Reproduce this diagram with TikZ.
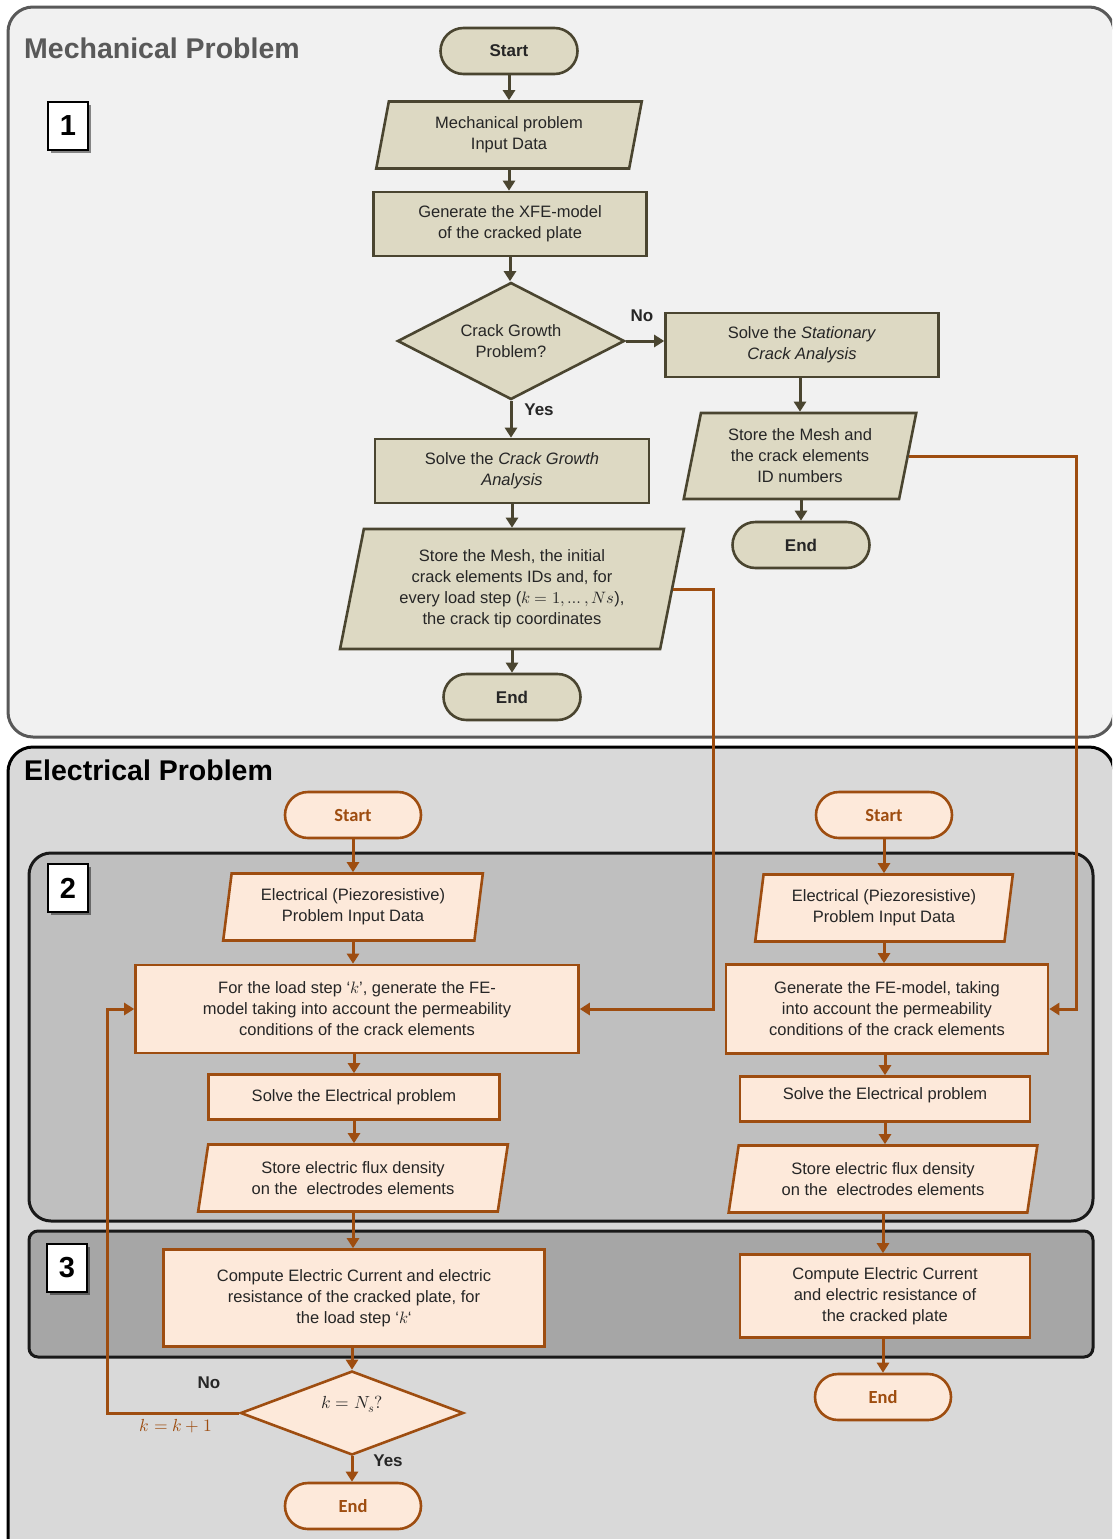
\documentclass[tikz,border=0pt]{standalone}
\usepackage{fontspec}
\usepackage{unicode-math}
\setmainfont{Liberation Sans}
\setmathfont{Latin Modern Math}
\newfontfamily\calib{Carlito}
\usetikzlibrary{shapes.geometric,shapes.misc,arrows.meta,shadows}
\definecolor{mechfill}{HTML}{DDD9C3}
\definecolor{mechdraw}{HTML}{4A4530}
\definecolor{elfill}{HTML}{FDE9DA}
\definecolor{eldraw}{HTML}{9E4D10}
\definecolor{txt}{HTML}{262626}
\definecolor{graytitle}{HTML}{595959}
\definecolor{mechpanel}{HTML}{F1F1F1}
\definecolor{elpanel}{HTML}{D9D9D9}
\definecolor{ptwo}{HTML}{BFBFBF}
\definecolor{pthree}{HTML}{A6A6A6}
\tikzset{
  base/.style={font=\fontsize{16.5}{21}\selectfont, text=txt, align=center, line width=2.6pt, inner sep=0pt},
  mbox/.style={base, draw=mechdraw, fill=mechfill, rectangle},
  ebox/.style={base, draw=eldraw, fill=elfill, rectangle},
  mpara/.style={base, draw=mechdraw, fill=mechfill, trapezium, trapezium stretches=true},
  epara/.style={base, draw=eldraw, fill=elfill, trapezium, trapezium stretches=true},
  mdia/.style={base, draw=mechdraw, fill=mechfill, diamond},
  edia/.style={base, draw=eldraw, fill=elfill, diamond},
  mterm/.style={base, draw=mechdraw, fill=mechfill, rectangle, rounded corners=23pt, minimum width=137pt, minimum height=46pt, font=\bfseries\fontsize{17}{20}\selectfont},
  eterm/.style={base, draw=eldraw, fill=elfill, rectangle, rounded corners=23pt, minimum width=136pt, minimum height=46pt, text=eldraw, font=\calib\bfseries\fontsize{18.5}{20}\selectfont},
  marr/.style={draw=mechdraw, line width=3pt, -{Triangle[length=10pt,width=12pt]}},
  earr/.style={draw=eldraw, line width=3pt, -{Triangle[length=10pt,width=12pt]}},
  numbox/.style={draw=black, fill=white, line width=2.6pt, minimum width=40pt, minimum height=48pt, inner sep=0pt, font=\bfseries\fontsize{29}{30}\selectfont, drop shadow={shadow xshift=3pt, shadow yshift=-3pt, opacity=0.45, fill=black}},
  lab/.style={font=\bfseries\fontsize{17}{20}\selectfont, text=txt, inner sep=0pt},
  title/.style={anchor=west, inner sep=0pt, font=\bfseries\fontsize{28.5}{32}\selectfont},
}
\begin{document}
\begin{tikzpicture}[x=1pt,y=-1pt]
\useasboundingbox (0,0) rectangle (1112,1539);
\clip (0,0) rectangle (1112,1539);
\fill[white] (0,0) rectangle (1112,1539);

% panels
\draw[line width=3pt, draw=graytitle, fill=mechpanel, rounded corners=25pt] (8,7) rectangle (1114,737);
\draw[line width=3pt, draw=black, fill=elpanel, rounded corners=25pt] (8,747) rectangle (1114,1580);
\draw[line width=3pt, draw=black!90, fill=ptwo, rounded corners=22pt] (29,853) rectangle (1093,1221);
\draw[line width=3pt, draw=black!90, fill=pthree, rounded corners=9pt] (29,1231) rectangle (1093,1357);

% titles and number boxes
\node[title, text=graytitle] (t1) at (24,48) {Mechanical Problem};
\node[title, text=black] (t2) at (24,770) {Electrical Problem};
\node[numbox] (n1) at (68,126) {1};
\node[numbox] (n2) at (68,888) {2};
\node[numbox] (n3) at (67,1268) {3};

% mechanical nodes
\node[mterm] (mstart) at (509,51) {Start};
\node[mpara, trapezium left angle=78, trapezium right angle=102, minimum width=266pt, minimum height=67pt] (minput) at (509,135) {Mechanical problem\\Input Data};
\node[mbox, minimum width=273pt, minimum height=64pt] (mgen) at (510,224) {Generate the XFE-model\\of the cracked plate};
\node[mdia, minimum width=227pt, minimum height=117pt, aspect=1.94] (mdec) at (511,341) {Crack Growth\\Problem?};
\node[mbox, minimum width=273pt, minimum height=64pt] (mstat) at (802,345) {Solve the \textit{Stationary}\\\textit{Crack Analysis}};
\node[mpara, trapezium left angle=77, trapezium right angle=103, minimum width=233pt, minimum height=86pt] (mstoreR) at (800,456) {Store the Mesh and\\the crack elements\\ID numbers};
\node[mterm] (mendR) at (801,545) {End};
\node[mbox, minimum width=274pt, minimum height=64pt] (mcg) at (512,471) {Solve the \textit{Crack Growth}\\\textit{Analysis}};
\node[mpara, trapezium left angle=77, trapezium right angle=103, minimum width=345pt, minimum height=120pt] (mstoreL) at (512,589) {Store the Mesh, the initial\\crack elements IDs and, for\\every load step ($k=1,\dots,Ns$),\\the crack tip coordinates};
\node[mterm] (mendL) at (512,697) {End};

\node[lab] (lno1) at (642,316) {No};
\node[lab] (lyes1) at (539,410) {Yes};

\draw[marr] (mstart.south) -- (mstart.south |- minput.north);
\draw[marr] (minput.south) -- (minput.south |- mgen.north);
\draw[marr] (mgen.south) -- (mgen.south |- mdec.north);
\draw[marr] (mdec.east) -- (mdec.east -| mstat.west);
\draw[marr] (mdec.south) -- (mdec.south |- mcg.north);
\draw[marr] (mstoreR.north |- mstat.south) -- (mstoreR.north);
\draw[marr] (mendR.north |- mstoreR.south) -- (mendR.north);
\draw[marr] (mcg.south) -- (mcg.south |- mstoreL.north);
\draw[marr] (mstoreL.south) -- (mstoreL.south |- mendL.north);

% electrical left column
\node[eterm] (estartL) at (353,815) {Start};
\node[epara, trapezium left angle=80, trapezium right angle=100, minimum width=260pt, minimum height=67pt] (einL) at (353,907) {Electrical (Piezoresistive)\\Problem Input Data};
\node[ebox, minimum width=443pt, minimum height=88pt] (egenL) at (357,1009) {For the load step ‘$k$’, generate the FE-\\model taking into account the permeability\\conditions of the crack elements};
\node[ebox, minimum width=291pt, minimum height=45pt] (esolL) at (354,1097) {Solve the Electrical problem};
\node[epara, trapezium left angle=78, trapezium right angle=102, minimum width=310pt, minimum height=67pt] (estoL) at (353,1178) {Store electric flux density\\on the\ \ electrodes elements};
\node[ebox, minimum width=381pt, minimum height=97pt] (ecompL) at (354,1298) {Compute Electric Current and electric\\resistance of the cracked plate, for\\the load step ‘$k$‘};
\node[edia, minimum width=223pt, minimum height=84pt, aspect=2.65, font=\fontsize{17.5}{22}\selectfont] (edec) at (352,1413) {\raisebox{5pt}[0pt][0pt]{$k = N_s?$}};
\node[eterm] (eendL) at (353,1506) {End};

\node[lab] (lno2) at (209,1383) {No};
\node[lab] (lyes2) at (388,1461) {Yes};
\node[inner sep=0pt, text=eldraw, font=\fontsize{17.5}{22}\selectfont] (lk) at (176,1426) {$k=k+1$};

\draw[earr] (estartL.south) -- (estartL.south |- einL.north);
\draw[earr] (einL.south) -- (einL.south |- egenL.north);
\draw[earr] (esolL.north |- egenL.south) -- (esolL.north);
\draw[earr] (esolL.south) -- (esolL.south |- estoL.north);
\draw[earr] (estoL.south) -- (estoL.south |- ecompL.north);
\draw[earr] (edec.north |- ecompL.south) -- (edec.north);
\draw[earr] (edec.south) -- (edec.south |- eendL.north);

% electrical right column
\node[eterm] (estartR) at (884,815) {Start};
\node[epara, trapezium left angle=80, trapezium right angle=100, minimum width=258pt, minimum height=67pt] (einR) at (884,908) {Electrical (Piezoresistive)\\Problem Input Data};
\node[ebox, minimum width=322pt, minimum height=89pt] (egenR) at (887,1009) {Generate the FE-model, taking\\into account the permeability\\conditions of the crack elements};
\node[ebox, minimum width=290pt, minimum height=45pt] (esolR) at (885,1099) {\raisebox{0pt}[0pt][0pt]{Solve the Electrical problem}};
\node[epara, trapezium left angle=78, trapezium right angle=102, minimum width=309pt, minimum height=67pt] (estoR) at (883,1179) {Store electric flux density\\on the\ \ electrodes elements};
\node[ebox, minimum width=290pt, minimum height=83pt] (ecompR) at (885,1296) {Compute Electric Current\\and electric resistance of\\the cracked plate};
\node[eterm] (eendR) at (883,1397) {End};

\draw[earr] (estartR.south) -- (estartR.south |- einR.north);
\draw[earr] (einR.south) -- (einR.south |- egenR.north);
\draw[earr] (esolR.north |- egenR.south) -- (esolR.north);
\draw[earr] (esolR.south) -- (esolR.south |- estoR.north);
\draw[earr] (estoR.south) -- (estoR.south |- ecompR.north);
\draw[earr] (eendR.north |- ecompR.south) -- (eendR.north);

% cross connectors
\coordinate (c1) at (713,0);
\coordinate (c2) at (1076,0);
\coordinate (c3) at (107,0);
\draw[earr] (mstoreL.east) -| (egenL.east -| c1) -- (egenL.east);
\draw[earr] (mstoreR.east) -| (egenR.east -| c2) -- (egenR.east);
\draw[earr] (edec.west) -| (egenL.west -| c3) -- (egenL.west);
\end{tikzpicture}
\end{document}
